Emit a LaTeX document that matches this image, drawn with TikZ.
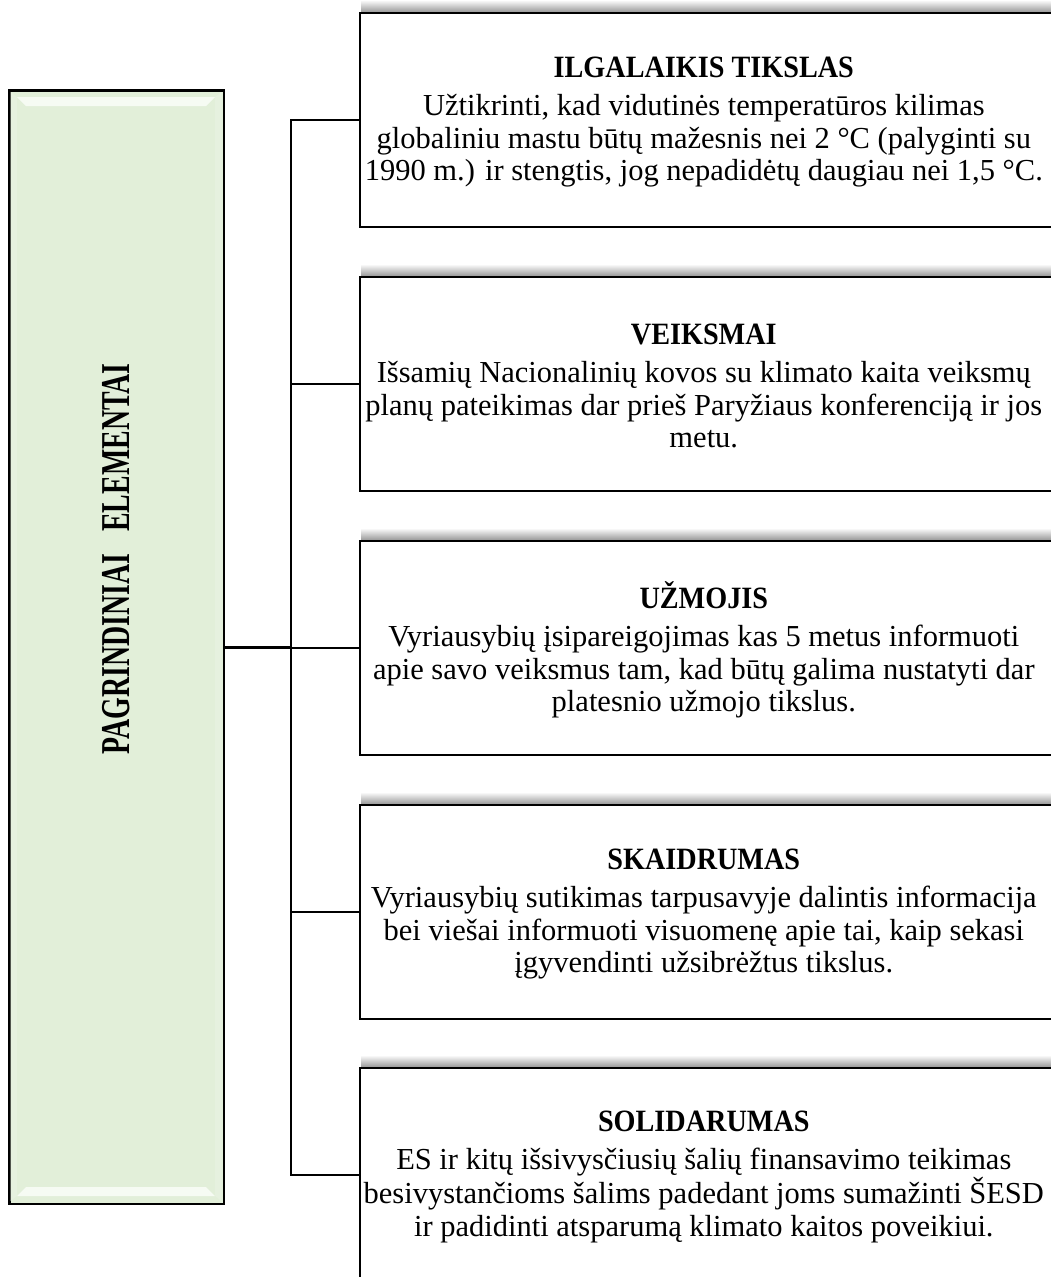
\documentclass[tikz,border=0pt]{standalone}
\usepackage{fontspec}
\setmainfont{Liberation Serif}[BoldFont={Liberation Serif Bold}, ItalicFont={Liberation Serif Italic}]
\usetikzlibrary{calc}
\definecolor{lgreen}{HTML}{E2EFD9}
\definecolor{lhigh}{HTML}{F6FBF3}
\definecolor{lside}{HTML}{E6F1DF}
\newcommand{\boxtitle}[1]{\scalebox{0.91}[1]{\bfseries\fontsize{31}{32.5}\selectfont #1}}
\begin{document}
\begin{tikzpicture}[x=1pt,y=-1pt,
  infobox/.style={draw=black, fill=white, line width=1.6pt, minimum width=701pt, minimum height=214pt, inner sep=0pt, anchor=north west},
  infotext/.style={align=center, inner sep=0pt, font=\fontsize{30.5}{32.5}\selectfont},
  conn/.style={line width=2pt, line cap=rect},
  boxshadow/.style={top color=white, bottom color=black!40}]
\useasboundingbox (0,0) rectangle (1051,1277);
\clip (0,0) rectangle (1051,1277);

% shadows above the boxes
\foreach \t in {12,276,540,804,1067}{
  \shade[boxshadow] (361,\t-12) rectangle (1060,\t);
}

% info boxes
\node[infobox] (b1) at (359,12) {};
\node[infobox] (b2) at (359,276) {};
\node[infobox] (b3) at (359,540) {};
\node[infobox] (b4) at (359,804) {};
\node[infobox] (b5) at (359,1067) {};

% main green box
\node[draw=black, fill=lgreen, line width=1.6pt, minimum width=214pt, minimum height=1113pt, inner sep=0pt, anchor=north west] (main) at (9,90) {};
\fill[lside] (10.5,92) -- (17,97) -- (17,1196) -- (10.5,1201) -- cycle;
\fill[lside] (221.5,92) -- (215,97) -- (215,1196) -- (221.5,1201) -- cycle;
\fill[lhigh] (17,97) -- (215,97) -- (206,106) -- (26,106) -- cycle;
\fill[lhigh] (26,1187) -- (206,1187) -- (215,1196) -- (17,1196) -- cycle;
\draw[line width=1.6pt] (main.north west) rectangle (main.south east);

\node[rotate=90, inner sep=0pt, font=\bfseries\fontsize{41}{41}\selectfont] (lbl) at (116.5,559) {\scalebox{0.68}[1]{PAGRINDINIAI\hspace{0.8em}ELEMENTAI}};

% texts
\node[infotext] (t1) at ($(b1.center)+(-6.5,2)$) {\boxtitle{ILGALAIKIS TIKSLAS}\\[6pt]
Užtikrinti, kad vidutinės temperatūros kilimas\\
globaliniu mastu būtų mažesnis nei 2 °C (palyginti su\\
1990 m.) ir stengtis, jog nepadidėtų daugiau nei 1,5 °C.};
\node[infotext] (t2) at ($(b2.center)+(-6.5,2)$) {\boxtitle{VEIKSMAI}\\[6pt]
Išsamių Nacionalinių kovos su klimato kaita veiksmų\\
planų pateikimas dar prieš Paryžiaus konferenciją ir jos\\
metu.};
\node[infotext] (t3) at ($(b3.center)+(-6.5,2)$) {\boxtitle{UŽMOJIS}\\[6pt]
Vyriausybių įsipareigojimas kas 5 metus informuoti\\
apie savo veiksmus tam, kad būtų galima nustatyti dar\\
platesnio užmojo tikslus.};
\node[infotext] (t4) at ($(b4.center)+(-6.5,2)$) {\boxtitle{SKAIDRUMAS}\\[6pt]
Vyriausybių sutikimas tarpusavyje dalintis informacija\\
bei viešai informuoti visuomenę apie tai, kaip sekasi\\
įgyvendinti užsibrėžtus tikslus.};
\node[infotext] (t5) at ($(b5.center)+(-6.5,2)$) {\boxtitle{SOLIDARUMAS}\\[6pt]
ES ir kitų išsivysčiusių šalių finansavimo teikimas\\
besivystančioms šalims padedant joms sumažinti ŠESD\\
ir padidinti atsparumą klimato kaitos poveikiui.};

% connectors
\coordinate (jx) at (291,646.5);
\draw[line width=3pt] (main.east) -- (main.east -| jx);
\draw[conn] (b1.west -| jx) -- (b5.west -| jx);
\foreach \b in {b1,b2,b3,b4,b5}{
  \draw[conn] (\b.west -| jx) -- (\b.west);
}
\end{tikzpicture}
\end{document}
